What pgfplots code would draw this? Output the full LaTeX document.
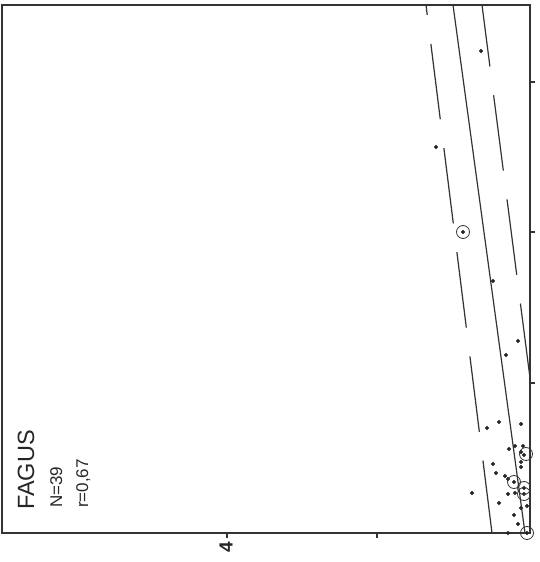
\documentclass[border=0pt]{standalone}
\usepackage{pgfplots}
\pgfplotsset{compat=1.18}
\usepackage{fontspec}
\setmainfont{Liberation Sans}
\begin{document}
\begin{tikzpicture}
\path[use as bounding box] (-2pt,-29pt) rectangle (537pt,533pt);
\begin{axis}[
  x=1pt, y=1pt, anchor=south west, at={(0,0)},
  xmin=2, xmax=530, ymin=29, ymax=557,
  axis line style={line width=1.4pt, black!80},
  clip=false,
  xtick={227,377}, xticklabels={}, xtick pos=bottom,
  ytick={179,330,480}, yticklabels={}, ytick pos=right,
  tick align=outside, major tick length=5pt,
  tick style={line width=1.1pt, black!80},
]
% regression line
\addplot[line width=1.2pt, black!80] coordinates {(453,557) (525,29)};
% left band
\addplot[line width=1.2pt, black!80, dash pattern=on 76pt off 29pt, dash phase=3pt] coordinates {(492,29) (426,557)};
% right band
\addplot[line width=1.2pt, black!80, dash pattern=on 76pt off 29pt, dash phase=14pt] coordinates {(482,557) (530,184)};
% points
\addplot[only marks, mark=*, mark size=1.9pt, black!85] coordinates {
(481,511) (436,415) (463,330) (493,281) (518,221) (506,207)
(487,134) (499,140) (521,138) (509,113) (515,116) (523,116)
(521,110) (524,107) (521,100) (521,95) (493,98) (496,89)
(505,86) (508,83) (514,80) (524,74) (524,68) (472,69)
(508,68) (515,69) (499,59) (521,54) (527,56) (514,47)
(518,38) (508,29) (527,29)
};
% circled (multiple) points
\addplot[only marks, mark=o, mark size=6.5pt, line width=0.8pt, black!80] coordinates {
(463,330) (526,108) (514,80) (524,74) (524,68) (527,29)
};
\node[rotate=90, anchor=base west, inner sep=0pt, font=\fontsize{23.5}{24}\selectfont, black!85] at (axis cs:34,52) {FAGUS};
\node[rotate=90, anchor=base west, inner sep=0pt, font=\fontsize{17}{17}\selectfont, black!85] at (axis cs:62,54) {N=39};
\node[rotate=90, anchor=base west, inner sep=0pt, font=\fontsize{17}{17}\selectfont, black!85] at (axis cs:88,54) {r=0,67};
\node[rotate=90, anchor=east, inner sep=0pt, font=\fontsize{19}{19}\selectfont\bfseries, black!85] at (axis cs:226,20) {4};
\end{axis}
\end{tikzpicture}
\end{document}
